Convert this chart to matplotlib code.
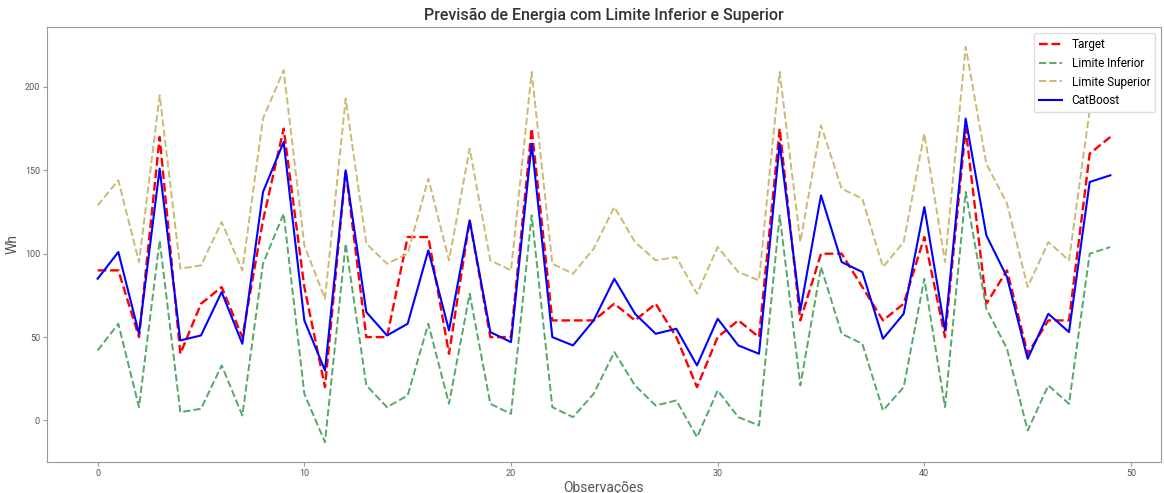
import matplotlib.pyplot as plt
import numpy as np

plt.rcParams['font.family'] = ['Roboto', 'DejaVu Sans']

# valores
target = [90, 90, 50, 170, 40, 70, 80, 50, 120, 175,
          80, 20, 150, 50, 50, 110, 110, 40, 120, 50,
          50, 175, 60, 60, 60, 70, 60, 70, 50, 20,
          50, 60, 50, 175, 60, 100, 100, 80, 60, 70,
          110, 50, 175, 70, 90, 40, 60, 60, 160, 170]
limite_inferior = [42, 58, 8, 108, 5, 7, 33, 3, 94, 124,
                   16, -13, 106, 21, 8, 15, 58, 10, 76, 10,
                   4, 123, 8, 2, 16, 41, 21, 9, 12, -10,
                   18, 2, -3, 123, 21, 92, 52, 46, 6, 20,
                   85, 8, 137, 67, 43, -6, 21, 10, 100, 104]
limite_superior = [129, 144, 95, 195, 91, 93, 119, 90, 181, 210,
                   105, 73, 193, 106, 94, 100, 145, 96, 163, 96,
                   90, 209, 94, 88, 103, 128, 107, 96, 98, 76,
                   104, 89, 84, 209, 107, 177, 139, 133, 92, 107,
                   172, 95, 224, 154, 130, 80, 107, 96, 186, 190]
catboost = [85, 101, 52, 151, 48, 51, 77, 46, 137, 167,
            60, 30, 150, 65, 51, 58, 102, 54, 120, 53,
            47, 166, 50, 45, 60, 85, 64, 52, 55, 33,
            61, 45, 40, 166, 66, 135, 95, 89, 49, 64,
            128, 54, 181, 111, 86, 37, 64, 53, 143, 147]

x = np.arange(len(target))

fig, ax = plt.subplots(figsize=(11.64, 4.93), dpi=100)
ax.plot(x, target, color='red', linestyle='--', linewidth=1.7, label='Target')
ax.plot(x, limite_inferior, color='#55a868', linestyle='--', linewidth=1.4, label='Limite Inferior')
ax.plot(x, limite_superior, color='#ccb974', linestyle='--', linewidth=1.4, label='Limite Superior')
ax.plot(x, catboost, color='blue', linewidth=1.5, label='CatBoost')

ax.set_title('Previsão de Energia com Limite Inferior e Superior', fontsize=11.5,
             color='#333333', fontweight='medium', pad=5)
ax.set_xlabel('Observações', fontsize=10, color='#555555', labelpad=2)
ax.set_ylabel('Wh', fontsize=10, color='#555555', labelpad=4)
ax.tick_params(labelsize=6.5, colors='#555555', length=3, color='#999999', pad=2)
for s in ax.spines.values():
    s.set_color('#999999')
ax.legend(loc='upper right', fontsize=8.5, framealpha=1, edgecolor='#dddddd')

plt.subplots_adjust(left=0.0404, right=0.9974, top=0.945, bottom=0.063)
plt.savefig('out.png')
